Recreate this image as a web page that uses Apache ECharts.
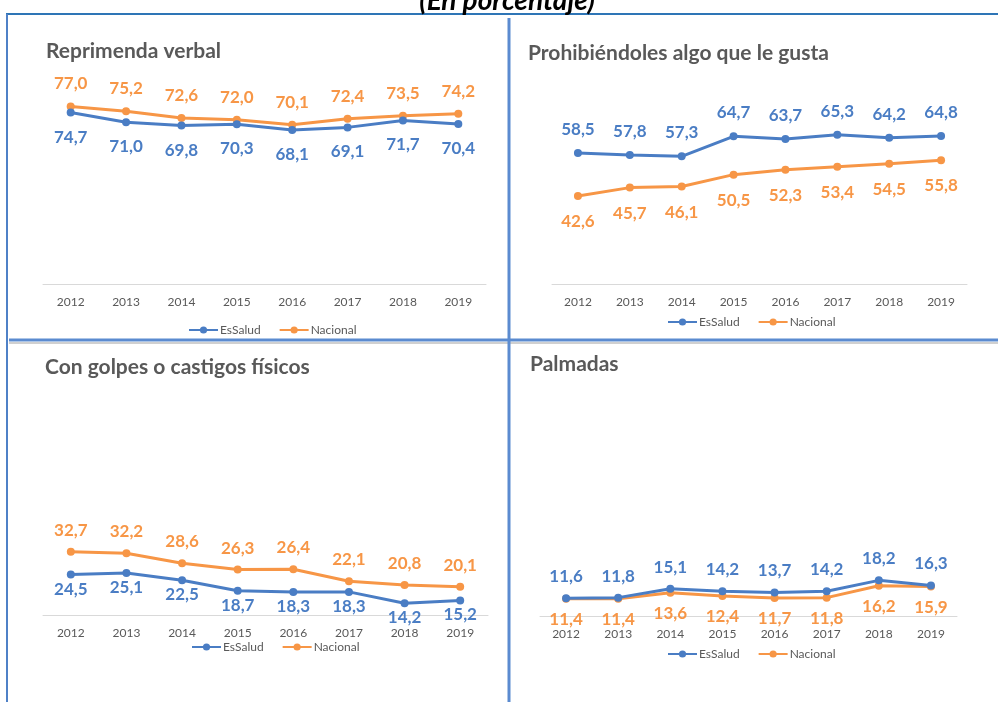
<!DOCTYPE html>
<html>
<head>
<meta charset="utf-8">
<script src="https://cdn.jsdelivr.net/npm/echarts@6/dist/echarts.min.js"></script>
<style>
  html, body { margin: 0; padding: 0; background: #fff; }
  #chart { width: 998px; height: 702px; }
</style>
</head>
<body>
<div id="chart"></div>
<script>
const years = ["2012", "2013", "2014", "2015", "2016", "2017", "2018", "2019"];
const seriesNames = ["EsSalud", "Nacional"];
const panelTitles = [
  "Reprimenda verbal",
  "Prohibiéndoles algo que le gusta",
  "Con golpes o castigos físicos",
  "Palmadas"
];

const reprimendaEsSalud = [74.7, 71.0, 69.8, 70.3, 68.1, 69.1, 71.7, 70.4];
const reprimendaNacional = [77.0, 75.2, 72.6, 72.0, 70.1, 72.4, 73.5, 74.2];
const prohibEsSalud = [58.5, 57.8, 57.3, 64.7, 63.7, 65.3, 64.2, 64.8];
const prohibNacional = [42.6, 45.7, 46.1, 50.5, 52.3, 53.4, 54.5, 55.8];
const golpesEsSalud = [24.5, 25.1, 22.5, 18.7, 18.3, 18.3, 14.2, 15.2];
const golpesNacional = [32.7, 32.2, 28.6, 26.3, 26.4, 22.1, 20.8, 20.1];
const palmadasEsSalud = [11.6, 11.8, 15.1, 14.2, 13.7, 14.2, 18.2, 16.3];
const palmadasNacional = [11.4, 11.4, 13.6, 12.4, 11.7, 11.8, 16.2, 15.9];

const BLUE = "#4a7dc4";
const ORANGE = "#f79646";
const GRAY = "#595959";
const FONT = "Lato, 'Open Sans', sans-serif";

// layout of each small chart (pixels in the 998x702 window)
const panels = [
  { grid: { left: 43, top: 72, width: 443, height: 212 }, min: 10, max: 90,
    title: [46, 41], legend: [188, 324], data: [reprimendaEsSalud, reprimendaNacional],
    pos: ["bottom", "top"], dist: [12, 10] },
  { grid: { left: 552, top: 95, width: 415, height: 189 }, min: 10, max: 80,
    title: [528, 43], legend: [667, 316], data: [prohibEsSalud, prohibNacional],
    pos: ["top", "bottom"], dist: [11, 13] },
  { grid: { left: 43, top: 420, width: 445, height: 195 }, min: 10, max: 80,
    title: [45, 357], legend: [191, 641], data: [golpesEsSalud, golpesNacional],
    pos: ["bottom", "top"], dist: [2, 9] },
  { grid: { left: 540, top: 413.5, width: 417, height: 202.5 }, min: 5, max: 80,
    title: [530, 354], legend: [667, 648], data: [palmadasEsSalud, palmadasNacional],
    pos: ["top", "bottom"], dist: [9, 8] }
];

const fmt = (p) => p.value.toFixed(1).replace(".", ",");

const chart = echarts.init(document.getElementById("chart"));

const option = {
  animation: false,
  backgroundColor: "#fff",
  title: panels.map((p, i) => ({
    text: panelTitles[i],
    left: p.title[0],
    top: p.title[1],
    padding: 0,
    textStyle: { fontFamily: FONT, fontSize: 21, fontWeight: "bold", color: GRAY }
  })),
  legend: panels.map((p) => ({
    data: seriesNames,
    left: p.legend[0],
    top: p.legend[1],
    padding: 0,
    itemWidth: 29,
    itemHeight: 9,
    itemGap: 18,
    textStyle: { fontFamily: FONT, fontSize: 12, color: GRAY, padding: [0, 0, 0, -3] }
  })),
  grid: panels.map((p) => p.grid),
  xAxis: panels.map((p, i) => ({
    type: "category",
    gridIndex: i,
    data: years,
    boundaryGap: true,
    axisTick: { show: false },
    axisLine: { lineStyle: { color: "#d9d9d9", width: 1 } },
    axisLabel: { color: GRAY, fontFamily: FONT, fontSize: 12, margin: 12 }
  })),
  yAxis: panels.map((p, i) => ({
    type: "value",
    gridIndex: i,
    min: p.min,
    max: p.max,
    show: false,
    splitLine: { show: false }
  })),
  series: [],
  graphic: [
    // frame lines of the original figure
    { type: "line", shape: { x1: 6, y1: 14, x2: 998, y2: 14 }, style: { stroke: "#2e75b6", lineWidth: 2 } },
    { type: "line", shape: { x1: 7, y1: 14, x2: 7, y2: 702 }, style: { stroke: "#4f81c7", lineWidth: 2 } },
    { type: "line", shape: { x1: 9, y1: 343, x2: 998, y2: 343 }, style: { stroke: "#d0d0d0", lineWidth: 2 } },
    { type: "line", shape: { x1: 9, y1: 340, x2: 998, y2: 340 }, style: { stroke: "#5b8bd0", lineWidth: 3 } },
    { type: "line", shape: { x1: 509, y1: 18, x2: 509, y2: 702 }, style: { stroke: "#5b8bd0", lineWidth: 3 } },
    {
      type: "text",
      x: 507,
      y: 15,
      style: {
        text: "(En porcentaje)",
        align: "center",
        verticalAlign: "bottom",
        font: "italic bold 28px " + FONT,
        fill: "#000"
      }
    }
  ]
};

panels.forEach((p, i) => {
  seriesNames.forEach((name, k) => {
    const color = k === 0 ? BLUE : ORANGE;
    option.series.push({
      name,
      type: "line",
      xAxisIndex: i,
      yAxisIndex: i,
      data: p.data[k],
      symbol: "circle",
      symbolSize: 8,
      z: k === 0 ? 3 : 2,
      lineStyle: { width: 3, color },
      itemStyle: { color },
      label: {
        show: true,
        position: p.pos[k],
        distance: p.dist[k],
        formatter: fmt,
        color,
        fontFamily: FONT,
        fontSize: 17,
        fontWeight: "bold"
      },
      emphasis: { disabled: true }
    });
  });
});

chart.setOption(option);
</script>
</body>
</html>
